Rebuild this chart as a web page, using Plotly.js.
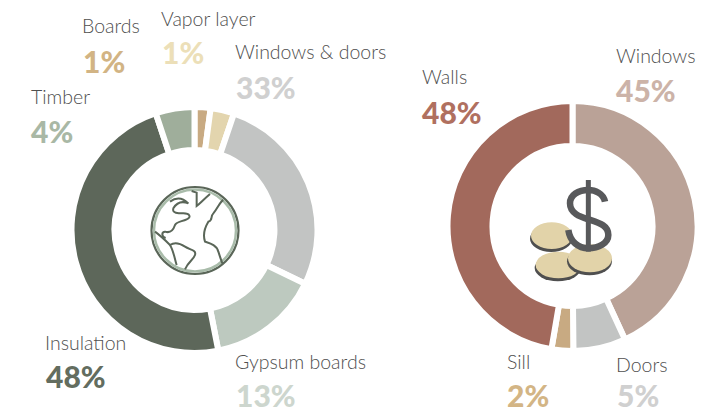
<!DOCTYPE html>
<html>
<head>
<meta charset="utf-8">
<script src="https://cdn.plot.ly/plotly-3.0.1.min.js"></script>
<style>html,body{margin:0;padding:0;background:#fff}#c{width:726px;height:413px}</style>
</head>
<body>
<div id="c"></div>
<script>
const embodiedCategories = ["Boards", "Vapor layer", "Windows & doors", "Gypsum boards", "Insulation", "Timber"];
const embodiedArcShares = [2.1, 3.1, 27, 14.7, 48, 5.1];
const embodiedLabels = ["1%", "1%", "33%", "13%", "48%", "4%"];
const embodiedColors = ["#c8aa82", "#e3d5ae", "#c2c4c3", "#bdc9bf", "#5d675a", "#9fae9b"];
const embodiedTextColors = ["#d2b484", "#ecdfb8", "#d0d0d0", "#cdd6ce", "#636d5f", "#a9b8a5"];

const costCategories = ["Windows", "Doors", "Sill", "Walls"];
const costArcShares = [43.1, 6.8, 2.8, 47.3];
const costLabels = ["45%", "5%", "2%", "48%"];
const costColors = ["#baa297", "#c2c4c3", "#c8aa82", "#a2695c"];
const costTextColors = ["#ccb3a8", "#d0d0d0", "#d3b585", "#b0705f"];

const W = 726, H = 413;
const px = x => x / W, py = y => 1 - y / H;

function pie(cats, vals, cols, cx, cy, r, hole) {
  return {
    type: "pie", labels: cats, values: vals, sort: false, direction: "clockwise", rotation: 0,
    hole: hole, textinfo: "none", hoverinfo: "none", showlegend: false, automargin: false,
    marker: {colors: cols, line: {color: "#ffffff", width: 6}},
    domain: {x: [px(cx - r), px(cx + r)], y: [py(cy + r), py(cy - r)]}
  };
}

function label(text, x, y, size, color, weight) {
  return {text: text, x: px(x), y: py(y), xref: "paper", yref: "paper", xanchor: "left", yanchor: "middle",
          showarrow: false, borderpad: 0, font: {family: "Lato", size: size, color: color, weight: weight}};
}
const labelAt = [
  ["Boards", 81, 26], ["Vapor layer", 159.5, 18], ["Windows & doors", 233.5, 52], ["Gypsum boards", 234, 361],
  ["Insulation", 43.5, 342], ["Timber", 29.5, 96], ["Windows", 615, 56], ["Doors", 614.5, 364], ["Sill", 505.5, 361], ["Walls", 420.5, 77]
];
const pctAt = [
  [embodiedLabels[0], 81.5, 61, embodiedTextColors[0]], [embodiedLabels[1], 160.5, 52, embodiedTextColors[1]],
  [embodiedLabels[2], 234.5, 87, embodiedTextColors[2]], [embodiedLabels[3], 234.5, 395, embodiedTextColors[3]],
  [embodiedLabels[4], 44.5, 376, embodiedTextColors[4]], [embodiedLabels[5], 29.5, 131, embodiedTextColors[5]],
  [costLabels[0], 615, 90, costTextColors[0]], [costLabels[1], 615.5, 395, costTextColors[1]],
  [costLabels[2], 505.5, 395, costTextColors[2]], [costLabels[3], 421, 112, costTextColors[3]]
];
const annotations = labelAt.map(a => label(a[0], a[1], a[2], 19.5, "#4f4f4f", 300))
  .concat(pctAt.map(a => label(a[0], a[1], a[2], 30, a[3], 900)));

// Icons: decorative paths written in a local 3x space and mapped to paper coordinates.
function iconPath(d, ox, oy) {
  let i = 0;
  return d.replace(/-?\d+(\.\d+)?/g, n => {
    const v = parseFloat(n) / 3;
    return ((i++ % 2 === 0) ? px(ox + v) : py(oy + v)).toFixed(5);
  });
}
function stroke(d, ox, oy, color, width) {
  return {type: "path", xref: "paper", yref: "paper", path: iconPath(d, ox, oy), line: {color: color, width: width}, fillcolor: "rgba(0,0,0,0)"};
}
function ell(cx, cy, rx, ry, fill, lineColor, lw) {
  return {type: "circle", xref: "paper", yref: "paper", x0: px(cx - rx), x1: px(cx + rx), y0: py(cy + ry), y1: py(cy - ry),
          fillcolor: fill, line: {color: lineColor || fill, width: lw || 0}};
}
const coast = "#5a6658";
const globe = [
  "M140 33 L155 38 L155 78 C165 70 172 62 195 42",
  "M75 65 C95 50 115 55 130 70 C110 62 95 68 85 85 C80 100 100 100 115 100 C135 100 140 112 125 118 C110 125 95 125 90 135 C85 150 75 160 60 155 C50 155 48 170 62 174",
  "M30 155 C50 170 65 185 75 195 C90 185 105 190 120 200 C135 210 155 210 150 225 C145 240 130 245 120 268",
  "M75 195 C85 210 90 240 95 255",
  "M235 60 C225 65 218 85 205 100 C195 110 205 120 190 125 C175 150 175 170 180 185 C195 190 215 195 220 215 C225 230 228 240 232 250"
];
const shapes = [
  ell(195, 230.5, 43.5, 43.5, "#ffffff", "#5a6658", 2.2),
  ell(195, 230.5, 41, 41, "rgba(0,0,0,0)", "#a9bcaa", 2.5)
].concat(globe.map(d => stroke(d, 145, 180, coast, 2)));

const coinX = 520, coinY = 170;
[[115, 285, 68, 40], [95, 197, 62, 40], [210, 265, 66, 42]].forEach(c => {
  const x = coinX + c[0] / 3, y = coinY + c[1] / 3, rx = c[2] / 3, ry = c[3] / 3;
  shapes.push(ell(x - 0.5, y + 3, rx + 0.5, ry, "#4f4f4f"));
  shapes.push(ell(x, y, rx, ry, "#e2d3a9"));
});
shapes.push(stroke("M255 95 C250 70 225 60 205 60 C175 60 150 75 150 100 C150 130 180 140 205 148 C235 158 265 165 265 195 C265 220 235 235 205 235 C175 235 150 215 145 180", coinX, coinY, "#58595b", 6.5));
shapes.push(stroke("M205 30 L205 245", coinX, coinY, "#58595b", 5));

Plotly.newPlot("c", [
  pie(embodiedCategories, embodiedArcShares, embodiedColors, 194.5, 230, 123, 0.65),
  pie(costCategories, costArcShares, costColors, 572.5, 226, 125, 0.64)
], {
  width: W, height: H, margin: {l: 0, r: 0, t: 0, b: 0},
  paper_bgcolor: "#ffffff", showlegend: false,
  annotations: annotations, shapes: shapes
}, {displayModeBar: false, staticPlot: true});
</script>
</body>
</html>
